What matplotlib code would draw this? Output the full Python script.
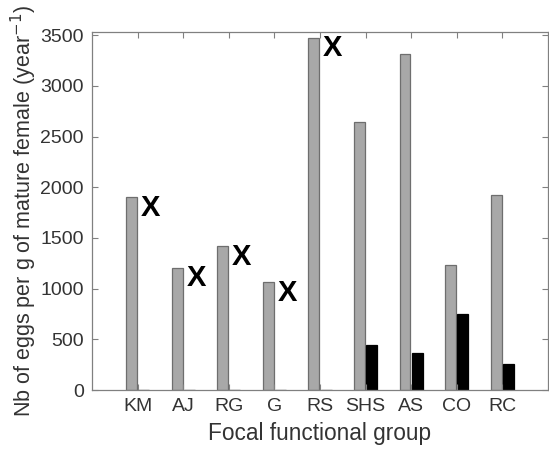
import numpy as np
import matplotlib.pyplot as plt

plt.rcParams['font.family'] = ['Liberation Sans', 'DejaVu Sans']

groups = ['KM', 'AJ', 'RG', 'G', 'RS', 'SHS', 'AS', 'CO', 'RC']
gray_vals = [1900, 1206, 1420, 1062, 3474, 2640, 3314, 1233, 1926]
black_vals = [0, 0, 0, 0, 0, 444, 365, 750, 253]
# groups marked with an X next to the bar
marked = ['KM', 'AJ', 'RG', 'G', 'RS']

fig = plt.figure(figsize=(5.49, 4.53), dpi=100)
ax = fig.add_axes([0.1676, 0.139, 0.8304, 0.790])

x = np.arange(1, len(groups) + 1)
w = 0.24
ax.bar(x - 0.135, gray_vals, width=w, color='#a8a8a8', edgecolor='#6e6e6e', linewidth=0.9)
ax.bar(x + 0.135, black_vals, width=w, color='black', edgecolor='black', linewidth=0.9)

for i, g in enumerate(groups):
    if g in marked:
        ax.text(x[i] + 0.28, gray_vals[i] - 105, 'X', fontsize=21, fontweight='bold',
                ha='center', va='center', color='black')

ax.set_xlim(0, 10)
ax.set_ylim(0, 3530)
ax.set_xticks(x)
ax.set_xticklabels(groups)
ax.set_yticks(np.arange(0, 3501, 500))
ax.tick_params(direction='in', top=True, right=True, length=4, width=0.8,
               color='#808080', labelsize=14, labelcolor='#333333', pad=6)
for s in ax.spines.values():
    s.set_color('#808080')
    s.set_linewidth(0.9)

ax.set_xlabel('Focal functional group', fontsize=16.3, color='#333333', labelpad=5)
ax.set_ylabel('Nb of eggs per g of mature female (year$^{-1}$)', fontsize=15.5,
              color='#333333', labelpad=1)

fig.savefig('out.png', dpi=100)
